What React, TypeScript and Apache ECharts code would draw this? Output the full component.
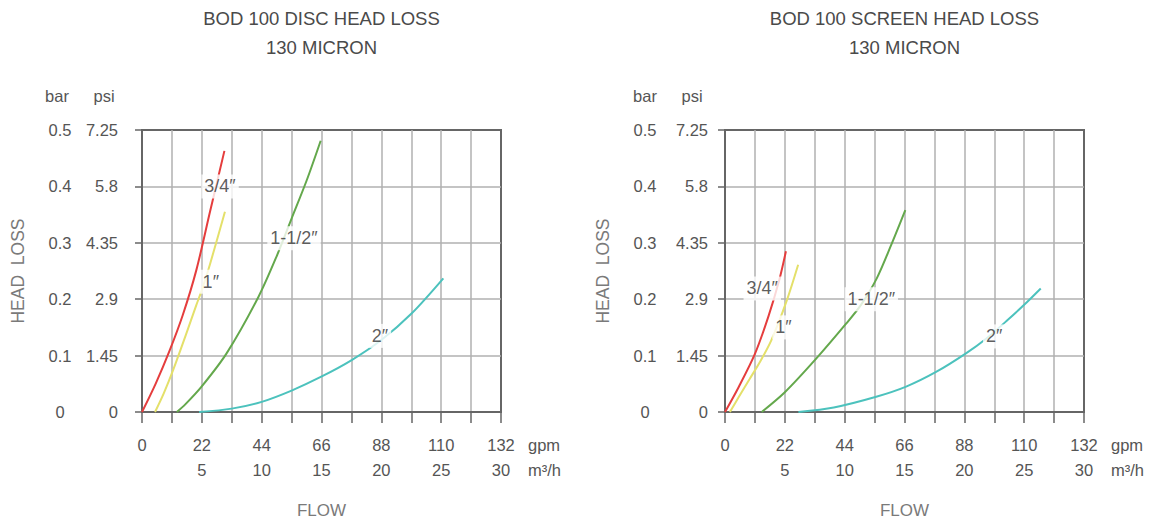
import React, { useEffect, useRef } from "react";
import * as echarts from "echarts";

// ---------- data ----------
const chartTitles = ["BOD 100 DISC HEAD LOSS", "BOD 100 SCREEN HEAD LOSS"];
const subTitle = "130 MICRON";
const barLabels = ["0", "0.1", "0.2", "0.3", "0.4", "0.5"];
const psiLabels = ["0", "1.45", "2.9", "4.35", "5.8", "7.25"];
const curveNames = ["3/4″", "1″", "1-1/2″", "2″"];

// DISC (flow gpm, head loss bar)
const disc34 = [[0, 0], [5, 0.05], [10, 0.107], [15, 0.172], [20, 0.252], [25, 0.355], [30.3, 0.463]];
const disc1 = [[4.8, 0], [8, 0.033], [11.5, 0.075], [16, 0.135], [20, 0.19], [22, 0.216], [25, 0.262], [30.5, 0.355]];
const disc112 = [[12.8, 0], [16, 0.014], [21.9, 0.045], [31.1, 0.104], [42.8, 0.204], [49.5, 0.276], [55, 0.343], [60.5, 0.41], [65.7, 0.481]];
const disc2 = [[21, 0], [33, 0.006], [44, 0.018], [55, 0.038], [66.1, 0.063], [77.1, 0.092], [88.1, 0.128], [99.2, 0.175], [110.8, 0.237]];
const discLabelPos = [[28.7, 0.4], [25.3, 0.231], [55.9, 0.308], [87.5, 0.135]];

// SCREEN
const screen34 = [[0, 0], [5, 0.044], [11, 0.103], [16, 0.17], [20, 0.235], [22.4, 0.285]];
const screen1 = [[1.8, 0], [5, 0.026], [9, 0.058], [13, 0.09], [17.1, 0.128], [22.6, 0.196], [26.9, 0.261]];
const screen112 = [[13.5, 0], [22, 0.035], [33.6, 0.095], [44.6, 0.157], [50, 0.19], [55.8, 0.237], [61, 0.295], [66.3, 0.358]];
const screen2 = [[27, 0], [40, 0.008], [55.6, 0.027], [66.6, 0.045], [77.6, 0.071], [88.6, 0.104], [96, 0.13], [103.9, 0.163], [110, 0.19], [116.1, 0.219]];
const screenLabelPos = [[13.7, 0.219], [21.5, 0.15], [53.8, 0.2], [99, 0.134]];

const curveColors = ["#e53d3d", "#e4e06a", "#64a84c", "#4cc2bd"];

// ---------- layout ----------
const FONT = "'Liberation Sans', Arial, sans-serif";
const TXT = "#555";
const LIGHT = "#7a7a7a";
const gridLefts = [142, 725];
const gridWidth = 359;
const gridTop = 130;
const gridHeight = 282;
const psiMargins = [24, 17];
const barMargins = [82, 80];

export default function App() {
  const ref = useRef<HTMLDivElement>(null);

  useEffect(() => {
    if (!ref.current) return;
    const chart = echarts.init(ref.current, null, { renderer: "svg" });

    const panels = [
      { curves: [disc34, disc1, disc112, disc2], labels: discLabelPos },
      { curves: [screen34, screen1, screen112, screen2], labels: screenLabelPos },
    ];

    const grids: any[] = [];
    const xAxes: any[] = [];
    const yAxes: any[] = [];
    const series: any[] = [];
    const graphics: any[] = [];

    panels.forEach((p, i) => {
      grids.push({
        left: gridLefts[i],
        top: gridTop,
        width: gridWidth,
        height: gridHeight,
        show: true,
        borderColor: "#666",
        borderWidth: 2,
        backgroundColor: "transparent",
      });
      // gpm axis
      xAxes.push({
        type: "value",
        gridIndex: i,
        min: 0,
        max: 132,
        interval: 11,
        position: "bottom",
        axisLine: { show: true, lineStyle: { color: "#666", width: 2 } },
        axisTick: { show: true, length: 11, lineStyle: { color: "#666", width: 1.5 } },
        axisLabel: {
          margin: 24,
          color: TXT,
          fontSize: 16.5,
          fontFamily: FONT,
          formatter: (v: number) => (Math.round(v) % 22 === 0 ? String(Math.round(v)) : ""),
        },
        splitLine: {
          show: true,
          showMinLine: false,
          showMaxLine: false,
          lineStyle: { color: "#b0b0b0", width: 1.5 },
        },
      });
      // m3/h axis
      xAxes.push({
        type: "value",
        gridIndex: i,
        min: 0,
        max: 30,
        interval: 5,
        position: "bottom",
        offset: 25,
        axisLine: { show: false },
        axisTick: { show: false },
        splitLine: { show: false },
        axisLabel: {
          margin: 24,
          color: TXT,
          fontSize: 16.5,
          fontFamily: FONT,
          formatter: (v: number) => (v === 0 ? "" : String(v)),
        },
      });
      // psi axis (drawn line, ticks, grid)
      yAxes.push({
        type: "value",
        gridIndex: i,
        min: 0,
        max: 0.5,
        interval: 0.1,
        position: "left",
        axisLine: { show: true, lineStyle: { color: "#666", width: 2 } },
        axisTick: { show: true, length: 7, lineStyle: { color: "#666", width: 1.5 } },
        axisLabel: {
          margin: psiMargins[i],
          align: "right",
          color: TXT,
          fontSize: 16.5,
          fontFamily: FONT,
          formatter: (v: number) => psiLabels[Math.round(v * 10)],
        },
        splitLine: {
          show: true,
          showMinLine: false,
          showMaxLine: false,
          lineStyle: { color: "#b0b0b0", width: 1.5 },
        },
      });
      // bar axis (labels only)
      yAxes.push({
        type: "value",
        gridIndex: i,
        min: 0,
        max: 0.5,
        interval: 0.1,
        position: "left",
        axisLine: { show: false },
        axisTick: { show: false },
        splitLine: { show: false },
        axisLabel: {
          margin: barMargins[i],
          align: "center",
          color: TXT,
          fontSize: 16.5,
          fontFamily: FONT,
          formatter: (v: number) => barLabels[Math.round(v * 10)],
        },
      });

      p.curves.forEach((d, k) => {
        series.push({
          type: "line",
          xAxisIndex: i * 2,
          yAxisIndex: i * 2,
          data: d,
          showSymbol: false,
          symbol: "none",
          smooth: 0.3,
          silent: true,
          lineStyle: { color: curveColors[k], width: 2 },
          z: 3,
        });
      });

      series.push({
        type: "scatter",
        xAxisIndex: i * 2,
        yAxisIndex: i * 2,
        symbolSize: 1,
        silent: true,
        z: 10,
        itemStyle: { color: "rgba(0,0,0,0)" },
        data: p.labels.map((pos, k) => ({ value: pos, name: curveNames[k] })),
        label: {
          show: true,
          position: "inside",
          formatter: (prm: any) => prm.name,
          backgroundColor: "#fff",
          padding: [3, 3],
          color: "#333",
          fontSize: 18,
          fontFamily: FONT,
        },
      });

      const cx = gridLefts[i] + gridWidth / 2;
      const txt = (text: string, x: number, y: number, opts: any = {}) => ({
        type: "text",
        x,
        y,
        rotation: opts.rotation || 0,
        style: {
          text,
          fill: opts.fill || TXT,
          font: `${opts.size || 16.5}px ${FONT}`,
          textAlign: opts.align || "center",
          textVerticalAlign: "middle",
        },
      });
      graphics.push(txt(chartTitles[i], cx, 18, { size: 18.5, fill: "#4a4a4a" }));
      graphics.push(txt(subTitle, cx, 47, { size: 18.5, fill: "#4a4a4a" }));
      graphics.push(txt("bar", gridLefts[i] - (i === 0 ? 85 : 80), 96));
      graphics.push(txt("psi", gridLefts[i] - (i === 0 ? 38 : 33), 96));
      graphics.push(txt("gpm", gridLefts[i] + gridWidth + 27, 445, { align: "left" }));
      graphics.push(txt("m³/h", gridLefts[i] + gridWidth + 27, 470, { align: "left" }));
      graphics.push(txt("FLOW", cx, 510, { size: 17, fill: LIGHT }));
      graphics.push(
        txt("HEAD  LOSS", gridLefts[i] - (i === 0 ? 124 : 122), gridTop + gridHeight / 2, {
          rotation: Math.PI / 2,
          size: 17.5,
          fill: LIGHT,
        })
      );
    });

    chart.setOption({
      animation: false,
      backgroundColor: "#fff",
      grid: grids,
      xAxis: xAxes,
      yAxis: yAxes,
      series,
      graphic: graphics,
    });

    return () => chart.dispose();
  }, []);

  return (
    <div
      ref={ref}
      style={{ position: "absolute", left: 0, top: 0, width: 1154, height: 521 }}
    />
  );
}
